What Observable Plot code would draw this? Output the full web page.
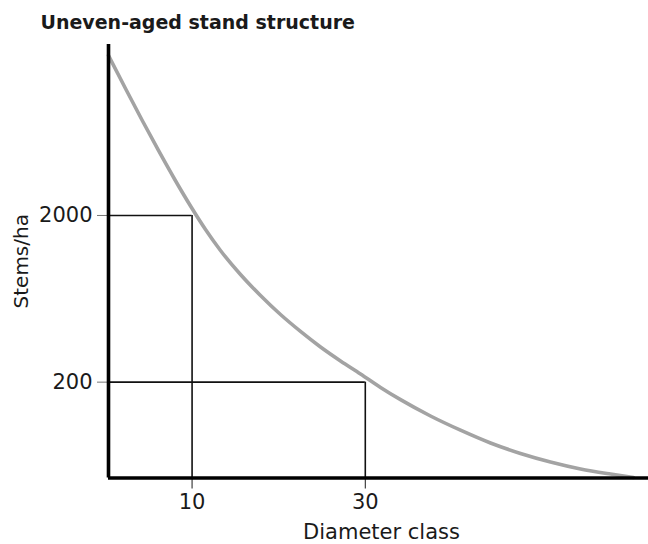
<!DOCTYPE html>
<html>
<head>
<meta charset="utf-8">
<script src="https://cdn.jsdelivr.net/npm/d3@7"></script>
<script src="https://cdn.jsdelivr.net/npm/@observablehq/plot@0.6"></script>
<style>
  html, body { margin: 0; padding: 0; background: #fff; }
  #chart { width: 648px; height: 544px; }
</style>
</head>
<body>
<div id="chart"></div>
<script>
// ---- data ----
const title = "Uneven-aged stand structure";
const xLabel = "Diameter class";
const yLabel = "Stems/ha";

// curve: diameter class vs stems/ha
const diameter = [0.35, 2.31, 4.28, 6.12, 7.97, 9.82, 11.55, 13.28, 15.59, 17.9, 20.21, 22.52, 24.83, 27.14, 29.45, 31.76, 34.07, 37.53, 40.99, 44.46, 47.92, 51.38, 54.85, 58.31, 60.97];
const stems    = [18240, 11560, 7380, 4910, 3311, 2280, 1648, 1233, 885, 662, 509, 403, 325, 268, 224, 186, 157, 125.3, 103, 86.3, 74.7, 66.4, 60.3, 56.2, 53.6];

// highlighted reference points
const refDiameter = [10, 30];
const refStems = [2000, 200];

// tick values
const xTicks = [10, 30];
const yTicks = [2000, 200];

// axis extents
const xDomain = [0.35, 62.7];
const yDomain = [53.2, 21224];

const curve = diameter.map((d, i) => ({x: d, y: stems[i]}));
const refs = refDiameter.map((d, i) => ({x: d, y: refStems[i]}));

const font = "'DejaVu Sans', sans-serif";

const chart = Plot.plot({
  width: 648,
  height: 544,
  marginTop: 44,
  marginBottom: 66.5,
  marginLeft: 108,
  marginRight: 0,
  style: {fontFamily: font, background: "#fff", color: "#1a1a1a"},
  x: {domain: xDomain},
  y: {type: "log", domain: yDomain},
  marks: [
    Plot.axisY({ticks: yTicks, tickSize: 11, tickPadding: 5, stroke: "#777", fill: "#1a1a1a",
      fontSize: 21, label: null, tickFormat: d => String(d)}),
    Plot.axisX({ticks: xTicks, tickSize: 11, tickPadding: 5, stroke: "#1a1a1a", fill: "#1a1a1a",
      fontSize: 21, label: null, tickFormat: d => String(d)}),
    // reference lines
    Plot.ruleY(refs, {y: "y", x1: () => xDomain[0], x2: "x", stroke: "#111", strokeWidth: 1.6}),
    Plot.ruleX(refs, {x: "x", y1: () => yDomain[0], y2: "y", stroke: "#111", strokeWidth: 1.6}),
    // curve
    Plot.line(curve, {x: "x", y: "y", stroke: "#a3a3a3", strokeWidth: 3.6, curve: "monotone-x"}),
    // axis lines
    Plot.ruleX([xDomain[0]], {stroke: "#000", strokeWidth: 3.6}),
    Plot.ruleY([yDomain[0]], {stroke: "#000", strokeWidth: 3.6}),
    // labels
    Plot.text([yLabel], {text: d => d, frameAnchor: "left", dx: -87, rotate: -90,
      fontSize: 20, fill: "#1a1a1a", textAnchor: "middle"}),
    Plot.text([xLabel], {text: d => d, frameAnchor: "bottom", dx: 3, dy: 54,
      fontSize: 21, fill: "#1a1a1a", textAnchor: "middle", lineAnchor: "middle"}),
    Plot.text([title], {text: d => d, frameAnchor: "top-left", dx: -68, dy: -22,
      fontSize: 19, fontWeight: "bold", fill: "#1a1a1a", textAnchor: "start", lineAnchor: "middle"})
  ]
});
document.getElementById("chart").appendChild(chart);
</script>
</body>
</html>
